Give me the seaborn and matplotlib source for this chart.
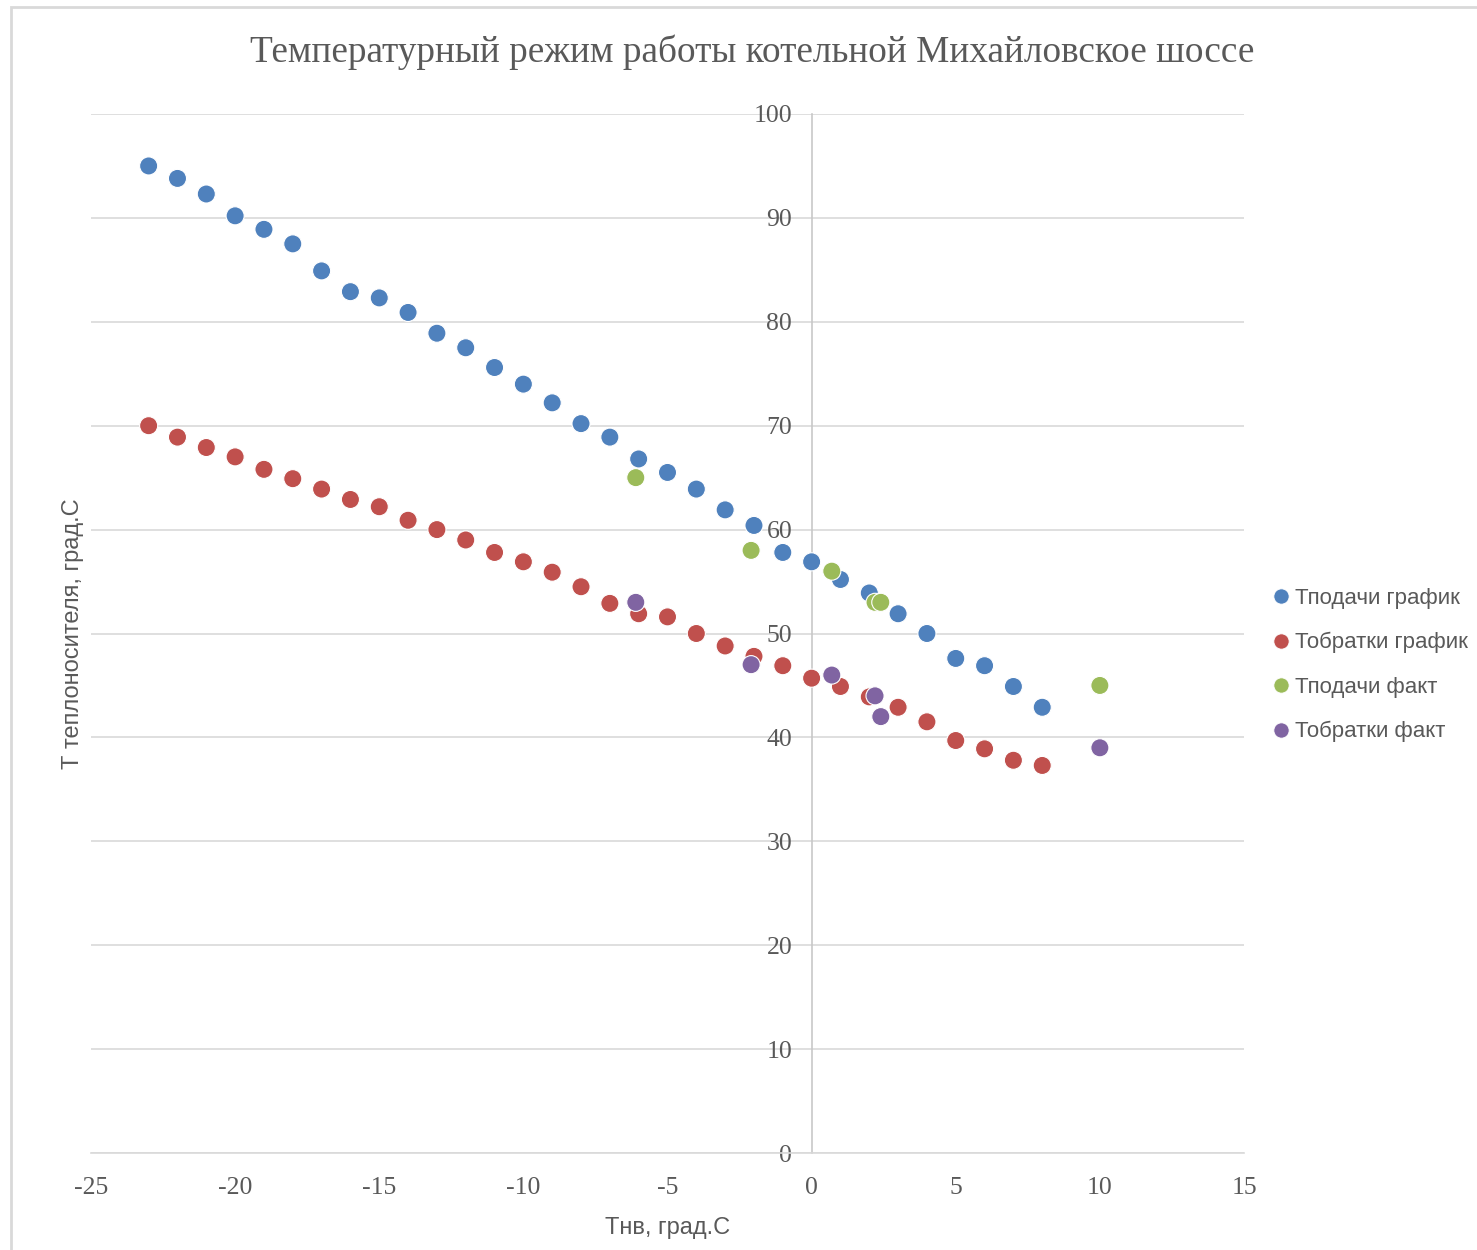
import pandas as pd
import matplotlib.pyplot as plt
import seaborn as sns
from matplotlib.lines import Line2D
from matplotlib.patches import Rectangle

# outside air temperature (x) and coolant temperature (y)
t_out_plan = list(range(-23, 9))
t_supply_plan = [95.0, 93.8, 92.3, 90.2, 88.9, 87.5, 84.9, 82.9, 82.3, 80.9, 78.9,
                 77.5, 75.6, 74.0, 72.2, 70.2, 68.9, 66.8, 65.5, 63.9, 61.9, 60.4,
                 57.8, 56.9, 55.2, 53.9, 51.9, 50.0, 47.6, 46.9, 44.9, 42.9]
t_return_plan = [70.0, 68.9, 67.9, 67.0, 65.8, 64.9, 63.9, 62.9, 62.2, 60.9, 60.0,
                 59.0, 57.8, 56.9, 55.9, 54.5, 52.9, 51.9, 51.6, 50.0, 48.8, 47.8,
                 46.9, 45.7, 44.9, 43.9, 42.9, 41.5, 39.7, 38.9, 37.8, 37.3]
t_out_fact = [-6.1, -2.1, 0.7, 2.2, 2.4, 10.0]
t_supply_fact = [65, 58, 56, 53, 53, 45]
t_return_fact = [53, 47, 46, 44, 42, 39]

series_names = ["Тподачи график", "Тобратки график", "Тподачи факт", "Тобратки факт"]
colors = ["#4F81BD", "#C0504D", "#9BBB59", "#8064A2"]

df = pd.concat([
    pd.DataFrame({"x": t_out_plan, "y": t_supply_plan, "s": series_names[0]}),
    pd.DataFrame({"x": t_out_plan, "y": t_return_plan, "s": series_names[1]}),
    pd.DataFrame({"x": t_out_fact, "y": t_supply_fact, "s": series_names[2]}),
    pd.DataFrame({"x": t_out_fact, "y": t_return_fact, "s": series_names[3]}),
])

sns.set_style("white")
plt.rcParams["axes.unicode_minus"] = False
txt = "#595959"
serif = "Liberation Serif"
sans = "Liberation Sans"

fig = plt.figure(figsize=(14.77, 12.5), dpi=100)
ax = fig.add_axes([91/1477, 97/1250, 1153/1477, 1039/1250])

sns.scatterplot(data=df, x="x", y="y", hue="s", palette=colors, s=170,
                edgecolor="white", linewidth=0.8, ax=ax, legend=False, zorder=3)

ax.set_xlim(-25, 15)
ax.set_ylim(0, 100)
ax.set_xticks(range(-25, 16, 5))
ax.set_yticks(range(0, 101, 10))
ax.grid(axis="y", color="#d9d9d9", linewidth=1.2)
ax.grid(axis="x", visible=False)
for sp in ["top", "right"]:
    ax.spines[sp].set_visible(False)
ax.spines["left"].set_position(("data", 0))
ax.spines["left"].set_color("#c8c8c8")
ax.spines["left"].set_linewidth(1.2)
ax.spines["bottom"].set_color("#d9d9d9")
ax.spines["bottom"].set_linewidth(1.2)
ax.tick_params(length=0)
ax.tick_params(axis="y", pad=14)
ax.tick_params(axis="x", pad=17)
for lab in ax.get_xticklabels() + ax.get_yticklabels():
    lab.set_fontfamily(serif)
    lab.set_fontsize(18.5)
    lab.set_color(txt)

ax.set_xlabel("Тнв, град.С", fontsize=17, color=txt, family=sans, labelpad=13)
ax.set_ylabel("Т теплоносителя, град.С", fontsize=17, color=txt, family=sans)
ax.yaxis.set_label_coords(-(91 - 84) / 1153, 0.5)

fig.text(752/1477, 1 - 52/1250, "Температурный режим работы котельной Михайловское шоссе",
         ha="center", va="center", fontsize=26.8, color=txt, family=serif)

handles = [Line2D([], [], marker="o", linestyle="", color=c, markersize=11,
                  markeredgecolor="white", markeredgewidth=0.6) for c in colors]
leg = fig.legend(handles, series_names, loc="center left",
                 bbox_to_anchor=(1248/1477, 1 - 665/1250), frameon=False,
                 handletextpad=0.0, labelspacing=1.05, handlelength=1.2,
                 prop={"family": sans, "size": 16})
for t in leg.get_texts():
    t.set_color(txt)

fig.add_artist(Rectangle((11/1477, -0.1), 1.2, 1 - 7/1250 + 0.1, transform=fig.transFigure,
                         fill=False, edgecolor="#d9d9d9", linewidth=2))

fig.savefig("out.png", dpi=100)
